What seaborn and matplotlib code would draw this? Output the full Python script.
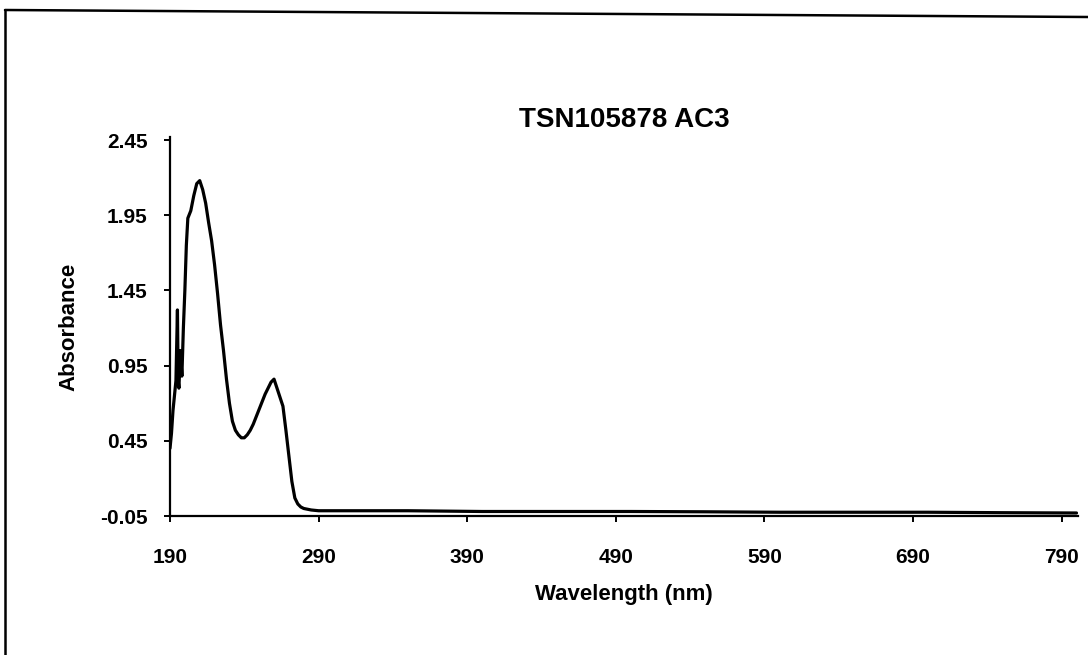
import matplotlib
matplotlib.use("Agg")
import matplotlib.pyplot as plt
from matplotlib.lines import Line2D
import seaborn as sns
import pandas as pd

wavelength = [190, 191, 192, 193, 194, 195, 195.5, 196, 197, 198, 199, 200, 201, 202,
              204, 206, 208, 210, 212, 214, 216, 218, 220, 222, 224, 226, 228, 230,
              232, 234, 236, 238, 240, 242, 244, 246, 248, 250, 252, 254, 256, 258,
              260, 262, 264, 266, 268, 270, 272, 274, 276, 278, 280, 285, 290, 300,
              350, 400, 450, 500, 550, 600, 650, 700, 750, 800]
absorbance = [0.40, 0.50, 0.65, 0.75, 0.85, 1.32, 0.85, 0.80, 1.05, 0.88, 1.20, 1.45, 1.75, 1.93,
              1.98, 2.08, 2.16, 2.18, 2.12, 2.03, 1.90, 1.78, 1.62, 1.43, 1.22, 1.05, 0.86, 0.70,
              0.58, 0.52, 0.49, 0.47, 0.47, 0.49, 0.52, 0.56, 0.61, 0.66, 0.71, 0.76, 0.80, 0.84,
              0.86, 0.80, 0.74, 0.68, 0.52, 0.35, 0.18, 0.07, 0.03, 0.01, 0.00, -0.01, -0.015, -0.015,
              -0.015, -0.02, -0.02, -0.02, -0.022, -0.025, -0.025, -0.025, -0.028, -0.03]

x_ticks = [190, 290, 390, 490, 590, 690, 790]
y_ticks = [-0.05, 0.45, 0.95, 1.45, 1.95, 2.45]
y_tick_labels = ["-0.05", "0.45", "0.95", "1.45", "1.95", "2.45"]

title_text = "TSN105878 AC3"
x_label = "Wavelength (nm)"
y_label = "Absorbance"

sns.set_style("ticks")
plt.rcParams["font.family"] = ["Liberation Sans", "DejaVu Sans"]
plt.rcParams["text.color"] = "black"
plt.rcParams["axes.labelcolor"] = "black"

df = pd.DataFrame({"wl": wavelength, "abs": absorbance})

fig = plt.figure(figsize=(10.88, 6.55), dpi=100)
ax = fig.add_axes([170 / 1088, 1 - 516 / 655, (1078 - 170) / 1088, (516 - 137) / 655])

sns.lineplot(data=df, x="wl", y="abs", ax=ax, color="black", linewidth=2.3,
             estimator=None, sort=False)

ax.set_xlim(190, 801)
ax.set_ylim(-0.05, 2.47)
ax.set_xticks(x_ticks)
ax.set_xticklabels([str(v) for v in x_ticks])
ax.set_yticks(y_ticks)
ax.set_yticklabels(y_tick_labels)

for s in ["top", "right"]:
    ax.spines[s].set_visible(False)
for s in ["left", "bottom"]:
    ax.spines[s].set_linewidth(1.6)
    ax.spines[s].set_color("black")

ax.tick_params(axis="both", direction="out", length=4, width=1.4, colors="black",
               labelcolor="black", labelsize=15)
ax.tick_params(axis="x", pad=19)
ax.tick_params(axis="y", pad=12)
for lab in ax.get_xticklabels() + ax.get_yticklabels():
    lab.set_fontweight("bold")

ax.set_title(title_text, fontsize=20, fontweight="bold", pad=7, color="black")
ax.set_xlabel(x_label, fontsize=16, fontweight="bold", labelpad=12, color="black")
ax.set_ylabel(y_label, fontsize=16, fontweight="bold", labelpad=15, color="black")

# scanned frame border (top and left)
fig.add_artist(Line2D([5 / 1088, 1.0], [1 - 10 / 655, 1 - 17 / 655],
                      transform=fig.transFigure, color="black", linewidth=1.8))
fig.add_artist(Line2D([5 / 1088, 5 / 1088], [1 - 10 / 655, 0.0],
                      transform=fig.transFigure, color="black", linewidth=1.8))

fig.savefig("out.png", dpi=100, facecolor="white")
